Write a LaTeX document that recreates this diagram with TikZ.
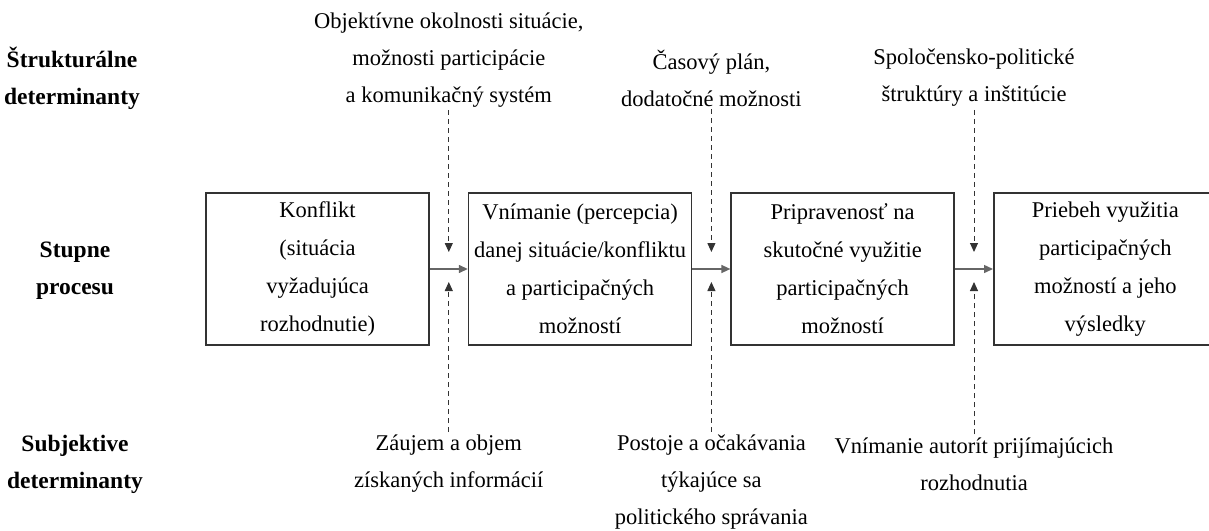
\documentclass[tikz,border=0pt]{standalone}
\usepackage{fontspec}
\setmainfont{Liberation Serif}
\usepackage{tikz}
\usetikzlibrary{arrows.meta,positioning,calc}

\begin{document}
\begin{tikzpicture}[
	x=1pt, y=-1pt,
	node distance=38pt,
	txt/.style={align=center, inner sep=3pt, font=\fontsize{22.5}{37}\selectfont},
	lab/.style={txt, font=\fontsize{23.5}{37}\selectfont\bfseries},
	stage/.style={rectangle, draw=black!80, line width=1.6pt, minimum width=223pt, minimum height=152pt, align=center, inner sep=2pt, font=\fontsize{22.5}{38}\selectfont},
	arr/.style={-{Triangle[length=9pt, width=8pt]}, draw=black!60, line width=1.4pt},
	det/.style={-{Triangle[length=9pt, width=8pt]}, black!80, line width=1pt, dash pattern=on 5pt off 4pt}
]
\useasboundingbox (0,0) rectangle (1209,530);

% riadok 1: stupne procesu
\node[stage] (konf) at (317.5,269) {Konflikt\\(situácia\\vyžadujúca\\rozhodnutie)};
\node[stage, right=of konf] (vnim) {Vnímanie (percepcia)\\danej situácie/konfliktu\\a participačných\\možností};
\node[stage, right=of vnim] (prip) {Pripravenosť na\\skutočné využitie\\participačných\\možností};
\node[stage, right=of prip] (prie) {Priebeh využitia\\participačných\\možností a jeho\\výsledky};

\draw[arr] (konf) -- (vnim);
\draw[arr] (vnim) -- (prip);
\draw[arr] (prip) -- (prie);

% lavy stlpec
\node[lab] (struk) at (72,78) {Štrukturálne\\determinanty};
\node[lab] (stup) at (75,271) {Stupne\\procesu};
\node[lab] (subj) at (75,464) {Subjektive\\determinanty};

% stredy medzier medzi krokmi
\coordinate (g1) at ($(konf.east)!0.5!(vnim.west)$);
\coordinate (g2) at ($(vnim.east)!0.5!(prip.west)$);
\coordinate (g3) at ($(prip.east)!0.5!(prie.west)$);

% strukturalne determinanty (zhora)
\node[txt] (obj) at (g1 |- 0,60) {Objektívne okolnosti situácie,\\možnosti participácie\\a komunikačný systém};
\node[txt] (cas) at (g2 |- 0,78) {Časový plán,\\dodatočné možnosti};
\node[txt] (spol) at (g3 |- 0,78) {Spoločensko-politické\\štruktúry a inštitúcie};

% subjektivne determinanty (zdola)
\node[txt] (zauj) at (g1 |- 0,464) {Záujem a objem\\získaných informácií};
\node[txt] (post) at (g2 |- 0,482) {Postoje a očakávania\\týkajúce sa\\politického správania};
\node[txt] (autor) at (g3 |- 0,464) {Vnímanie autorít prijímajúcich\\rozhodnutia};

\foreach \g/\t/\b in {g1/obj/zauj, g2/cas/post, g3/spol/autor}{
	\coordinate (\g d) at ($(\g)+(0,-17)$);
	\coordinate (\g u) at ($(\g)+(0,13)$);
	\draw[det] (\t.south -| \g) -- (\g d);
	\draw[det] (\b.north -| \g) -- (\g u);
}
\end{tikzpicture}
\end{document}
